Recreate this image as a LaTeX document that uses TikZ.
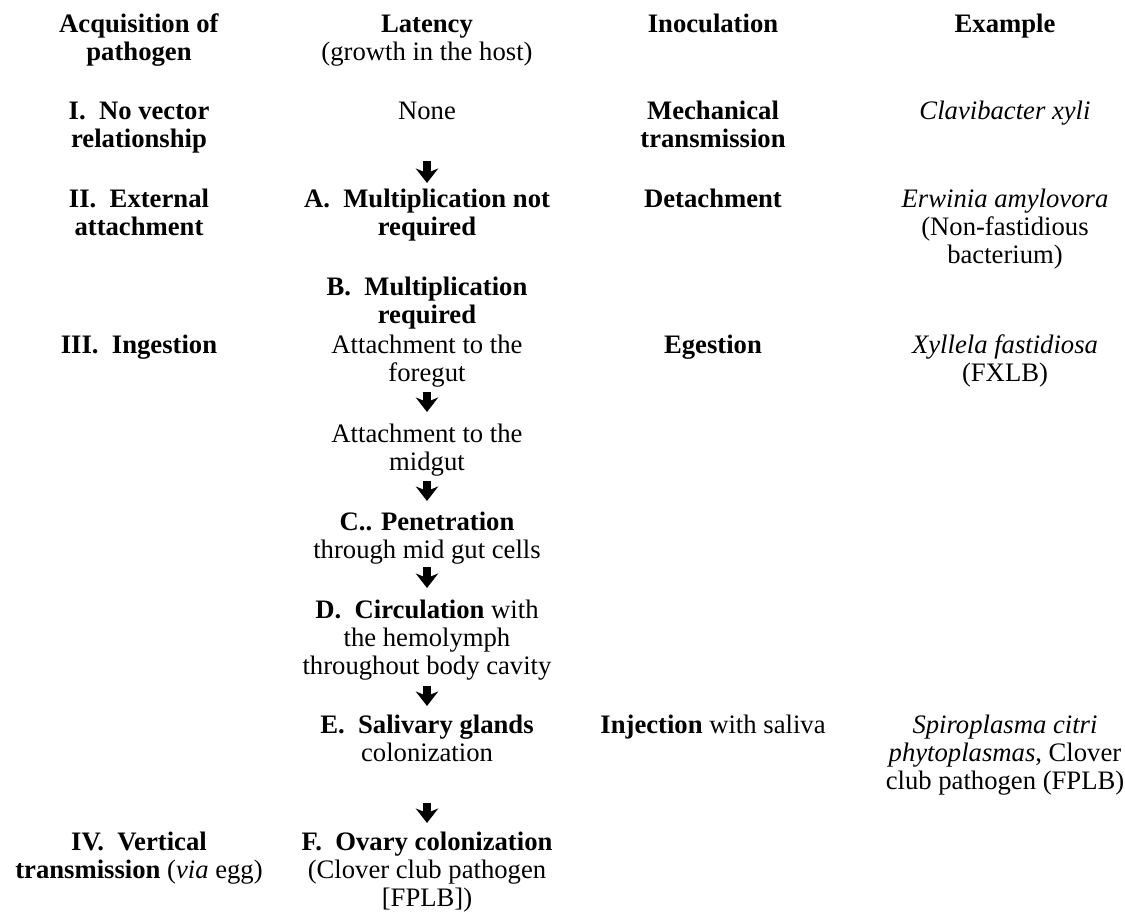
\documentclass[tikz,border=0pt]{standalone}
\usepackage{fontspec}
\setmainfont{Liberation Serif}
\usetikzlibrary{arrows.meta,calc}
% column centres
\def\colA{139}
\def\colB{427}
\def\colC{713}
\def\colD{1005}
\tikzset{cell/.style={anchor=base,inner sep=0pt,
    font=\fontsize{12}{12.6}\selectfont}}
\tikzstyle{flow}=[line width=3.4pt,-{Stealth[width=10pt,length=6.5pt,inset=2pt]}]
% cells hang from the baseline of their first line
\newcommand{\newCell}[4]{\node[cell](#1) at (#2,#3) {\begin{tabular}[t]{@{}c@{}}#4\end{tabular}};}
\newcommand{\newStep}[4]{\draw[flow] ($(#1.base)+(0,#3)$) -- ($(#2.base)+(0,#4)$);}

\begin{document}
\begin{tikzpicture}[x=0.45pt,y=-0.45pt]
  \useasboundingbox (0,0) rectangle (1125,915);
  % headers
  \newCell{hAcq}{\colA}{32}{\textbf{Acquisition of}\\\textbf{pathogen}}
  \newCell{hLat}{\colB}{32}{\textbf{Latency}\\(growth in the host)}
  \newCell{hInoc}{\colC}{32}{\textbf{Inoculation}}
  \newCell{hEx}{\colD}{32}{\textbf{Example}}
  % acquisition
  \newCell{typeI}{\colA}{119}{\textbf{I.\ \ No vector}\\\textbf{relationship}}
  \newCell{typeII}{\colA}{207}{\textbf{II.\ \ External}\\\textbf{attachment}}
  \newCell{typeIII}{\colA}{353}{\textbf{III.\ \ Ingestion}}
  \newCell{typeIV}{\colA}{850}{\textbf{IV.\ \ Vertical}\\\textbf{transmission} (\textit{via} egg)}
  % latency
  \newCell{none}{\colB}{119}{None}
  \newCell{stA}{\colB}{207}{\textbf{A.\ \ Multiplication not}\\\textbf{required}}
  \newCell{stB}{\colB}{295}{\textbf{B.\ \ Multiplication}\\\textbf{required}}
  \newCell{fore}{\colB}{353}{Attachment to the\\foregut}
  \newCell{mid}{\colB}{442}{Attachment to the\\midgut}
  \newCell{stC}{\colB}{530}{\textbf{C.. Penetration}\\through mid gut cells}
  \newCell{stD}{\colB}{618}{\textbf{D.\ \ Circulation} with\\the hemolymph\\throughout body cavity}
  \newCell{stE}{\colB}{733}{\textbf{E.\ \ Salivary glands}\\colonization}
  \newCell{stF}{\colB}{850}{\textbf{F.\ \ Ovary colonization}\\(Clover club pathogen\\{[}FPLB{]})}
  % inoculation
  \newCell{mech}{\colC}{119}{\textbf{Mechanical}\\\textbf{transmission}}
  \newCell{detach}{\colC}{207}{\textbf{Detachment}}
  \newCell{egest}{\colC}{353}{\textbf{Egestion}}
  \newCell{inject}{\colC}{733}{\textbf{Injection} with saliva}
  % examples
  \newCell{exI}{\colD}{119}{\textit{Clavibacter xyli}}
  \newCell{exII}{\colD}{207}{\textit{Erwinia amylovora}\\(Non-fastidious\\bacterium)}
  \newCell{exIII}{\colD}{353}{\textit{Xyllela fastidiosa}\\(FXLB)}
  \newCell{exE}{\colD}{733}{\textit{Spiroplasma citri}\\\textit{phytoplasmas}, Clover\\club pathogen (FPLB)}
  % steps
  \newStep{none}{stA}{42}{-24}
  \newStep{fore}{mid}{39}{-30}
  \newStep{mid}{stC}{39}{-29}
  \newStep{stC}{stD}{37}{-30}
  \newStep{stD}{stE}{68}{-27}
  \newStep{stE}{stF}{70}{-27}
\end{tikzpicture}
\end{document}
